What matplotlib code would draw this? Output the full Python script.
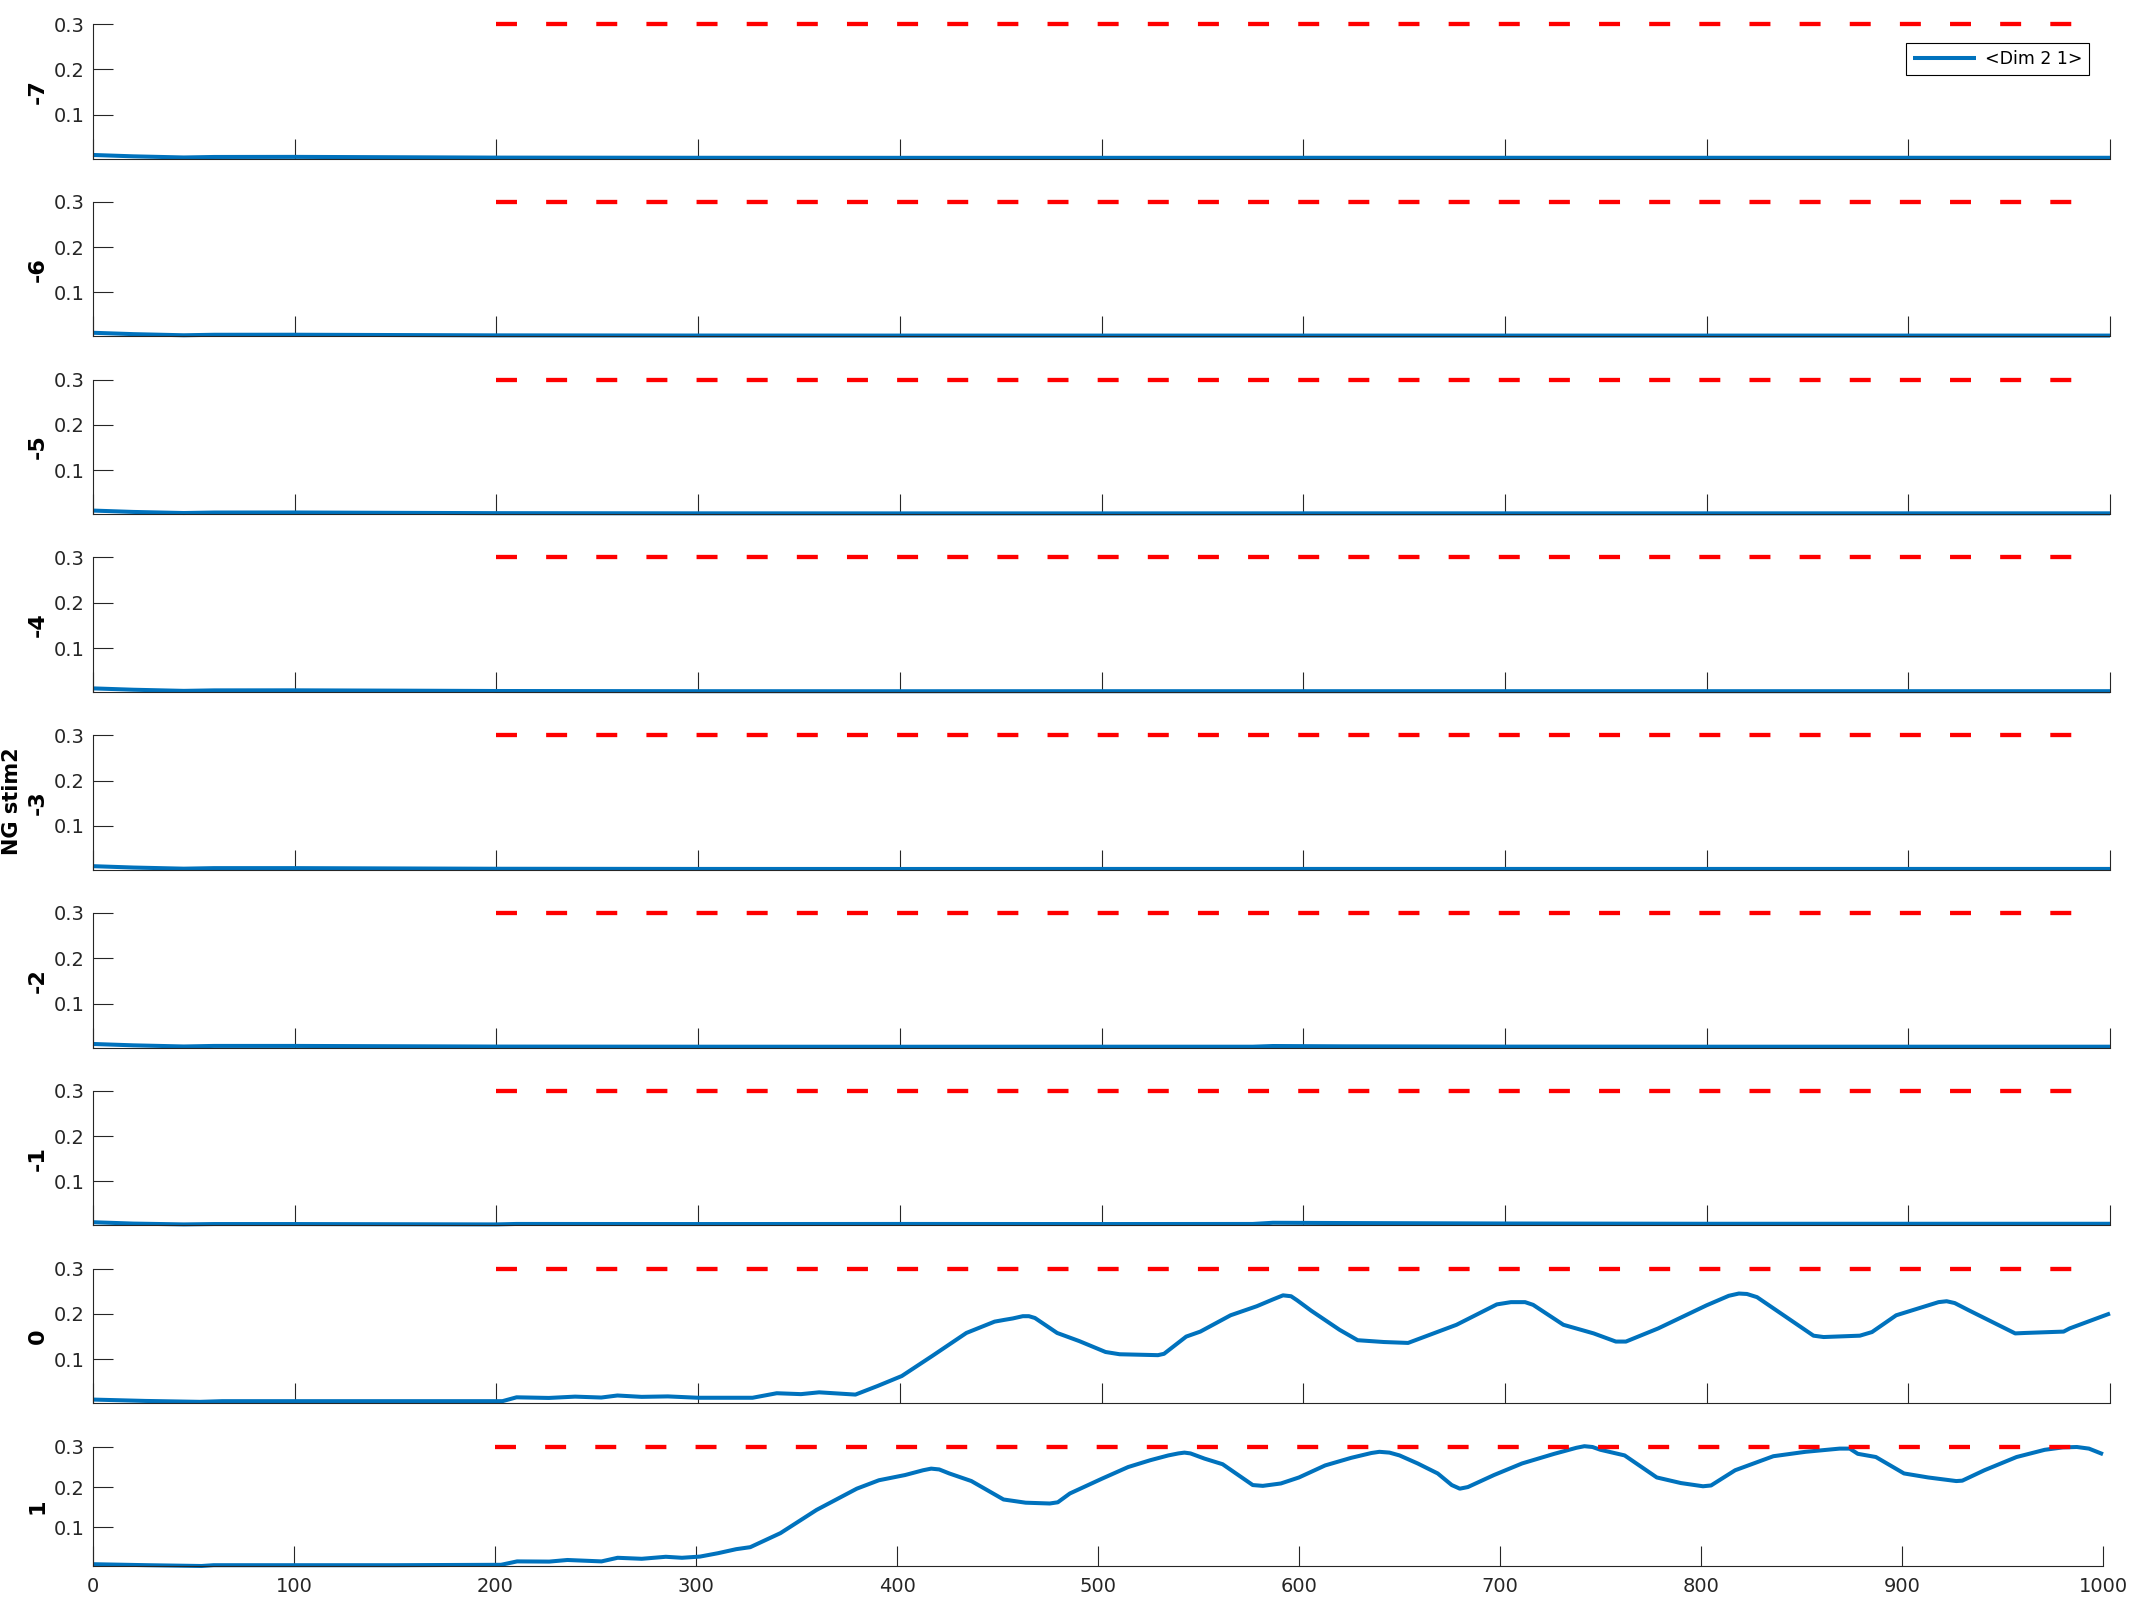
import matplotlib
matplotlib.use('Agg')
import matplotlib.pyplot as plt

plt.rcParams['font.family'] = ['DejaVu Sans']
plt.rcParams['lines.scale_dashes'] = False

# ---------------- data ----------------
panel_labels = ['-7', '-6', '-5', '-4', '-3', '-2', '-1', '0', '1']
x_ticks = [0, 100, 200, 300, 400, 500, 600, 700, 800, 900, 1000]
y_ticks = [0.1, 0.2, 0.3]
y_tick_labels = ['0.1', '0.2', '0.3']
legend_label = '<Dim 2 1>'
super_ylabel = 'NG stim2'

# red reference (dashed) line
ref_x = [200, 986]
ref_y = [0.3, 0.3]

# flat panels
flat_x = [0, 20, 45, 60, 100, 150, 200, 300, 400, 500, 600, 700, 800, 900, 1000]
y_m7 = [0.011, 0.008, 0.0055, 0.0066, 0.0068, 0.006, 0.0052, 0.0048, 0.0047, 0.0047, 0.0048, 0.0048, 0.0048, 0.0048, 0.0048]
y_m6 = [0.011, 0.008, 0.0055, 0.0066, 0.0067, 0.006, 0.0053, 0.0049, 0.0048, 0.0048, 0.0048, 0.0048, 0.0048, 0.0048, 0.0048]
y_m5 = [0.011, 0.008, 0.0056, 0.0067, 0.0068, 0.006, 0.0053, 0.0049, 0.0048, 0.0048, 0.0049, 0.0049, 0.0049, 0.0049, 0.0049]
y_m4 = [0.011, 0.008, 0.0055, 0.0066, 0.0067, 0.006, 0.0052, 0.0048, 0.0047, 0.0048, 0.0048, 0.0048, 0.0048, 0.0048, 0.0048]
y_m3 = [0.011, 0.008, 0.0055, 0.0067, 0.0067, 0.006, 0.0053, 0.0049, 0.0048, 0.0049, 0.0049, 0.0049, 0.0049, 0.0049, 0.0049]

x_m2 = [0, 20, 45, 60, 100, 150, 200, 300, 400, 500, 575, 585, 620, 700, 800, 900, 1000]
y_m2 = [0.011, 0.008, 0.0055, 0.0067, 0.0067, 0.006, 0.0053, 0.005, 0.0049, 0.005, 0.005, 0.0065, 0.0058, 0.0052, 0.005, 0.005, 0.005]

x_m1 = [0, 20, 45, 60, 100, 150, 200, 210, 300, 400, 500, 575, 585, 620, 700, 800, 900, 1000]
y_m1 = [0.010, 0.007, 0.0052, 0.006, 0.006, 0.0056, 0.0052, 0.0062, 0.006, 0.0062, 0.006, 0.0062, 0.0088, 0.0082, 0.0072, 0.0066, 0.0066, 0.0066]

# panel 0
x_0 = [0, 26, 53, 64, 150, 203, 210, 226, 239, 252, 260, 272, 285, 300, 327, 339, 351, 360, 378,
       389, 401, 416, 433, 447, 452, 456, 461, 464, 467, 478, 489, 502, 509, 528, 531, 542, 549,
       564, 577, 585, 590, 594, 597, 604, 618, 627, 640, 652, 676, 696, 703, 710, 714, 729, 744,
       755, 760, 776, 800, 811, 816, 820, 825, 853, 858, 876, 882, 894, 915, 919, 923, 930, 953,
       958, 977, 980, 1000]
y_0 = [0.011, 0.008, 0.006, 0.0075, 0.0075, 0.0075, 0.016, 0.0146, 0.0175, 0.0155, 0.020, 0.017, 0.018,
       0.015, 0.015, 0.025, 0.023, 0.027, 0.022,
       0.041, 0.063, 0.107, 0.158, 0.183, 0.187, 0.190, 0.195, 0.195, 0.191, 0.158, 0.140, 0.116,
       0.111, 0.109, 0.112, 0.150, 0.161, 0.197, 0.217, 0.232, 0.241, 0.239, 0.230, 0.207, 0.165,
       0.142, 0.138, 0.136, 0.176, 0.221, 0.226, 0.226, 0.220, 0.176, 0.157, 0.139, 0.139, 0.168,
       0.219, 0.240, 0.245, 0.244, 0.237, 0.152, 0.149, 0.152, 0.160, 0.197, 0.226, 0.228, 0.224,
       0.208, 0.157, 0.158, 0.161, 0.168, 0.201]

# panel 1
x_1 = [0, 27, 54, 60, 150, 203, 211, 227, 236, 253, 261, 273, 285, 293, 302, 311, 320, 327, 342,
       360, 380, 391, 404, 413, 417, 421, 426, 437, 453, 464, 476, 480, 486, 502, 515, 526, 535,
       540, 543, 546, 553, 562, 577, 582, 591, 600, 613, 626, 636, 640, 645, 650, 659, 669, 676,
       680, 684, 697, 711, 727, 738, 742, 746, 750, 762, 778, 790, 801, 805, 817, 836, 852, 869,
       874, 878, 887, 901, 913, 927, 930, 941, 957, 971, 980, 987, 993, 1000]
y_1 = [0.0075, 0.005, 0.003, 0.005, 0.005, 0.006, 0.0145, 0.014, 0.018, 0.0145, 0.0235, 0.021, 0.026,
       0.0235, 0.0265, 0.035, 0.045, 0.050, 0.085,
       0.143, 0.196, 0.217, 0.230, 0.242, 0.246, 0.244, 0.234, 0.215, 0.169, 0.161, 0.159, 0.162,
       0.184, 0.221, 0.250, 0.267, 0.279, 0.284, 0.286, 0.284, 0.271, 0.257, 0.205, 0.203, 0.209,
       0.224, 0.254, 0.273, 0.285, 0.288, 0.286, 0.279, 0.259, 0.234, 0.205, 0.196, 0.200, 0.230,
       0.259, 0.283, 0.298, 0.302, 0.300, 0.293, 0.279, 0.224, 0.210, 0.202, 0.204, 0.242, 0.277,
       0.288, 0.296, 0.296, 0.283, 0.275, 0.234, 0.224, 0.215, 0.216, 0.242, 0.275, 0.293, 0.299,
       0.300, 0.296, 0.282]

series_x = [flat_x, flat_x, flat_x, flat_x, flat_x, x_m2, x_m1, x_0, x_1]
series_y = [y_m7, y_m6, y_m5, y_m4, y_m3, y_m2, y_m1, y_0, y_1]

# ---------------- layout ----------------
W, H = 2133, 1600
fig = plt.figure(figsize=(W / 100, H / 100), dpi=100)
left_px = 93
tops = [24 + 177.8 * k for k in range(8)] + [1447]
bottoms = [t + 134.6 for t in tops[:8]] + [1566]
rights = [2110] * 8 + [2103]

axis_col = '#262626'
blue = '#0072BD'

for i in range(9):
    t, b, r = tops[i], bottoms[i], rights[i]
    ax = fig.add_axes([left_px / W, 1 - b / H, (r - left_px) / W, (b - t) / H])
    line, = ax.plot(series_x[i], series_y[i], color=blue, lw=2.9, solid_joinstyle='round',
                    solid_capstyle='butt', clip_on=False, zorder=2)
    ax.plot(ref_x, ref_y, color='#FF0000', lw=3.1, dashes=(15.1, 21.0), zorder=3, clip_on=False)
    ax.set_xlim(0, 1000)
    ax.set_ylim(0.003, 0.3)
    for s in ['top', 'right']:
        ax.spines[s].set_visible(False)
    for s in ['left', 'bottom']:
        ax.spines[s].set_color(axis_col)
        ax.spines[s].set_linewidth(0.8)
    ax.set_xticks(x_ticks)
    ax.set_yticks(y_ticks)
    ax.set_yticklabels(y_tick_labels)
    ax.tick_params(direction='in', length=14.4, width=0.8, colors=axis_col,
                   labelsize=14, pad=6)
    if i < 8:
        ax.tick_params(labelbottom=False)
    else:
        ax.tick_params(axis='x', pad=8)
    fig.text(38 / W, 1 - (t + b) / 2 / H, panel_labels[i], rotation=90,
             ha='center', va='center', fontweight='bold', fontsize=16, color='black')
    if i == 0:
        ax.legend([line], [legend_label], loc='upper right',
                  bbox_to_anchor=(2089 / W, 1 - 43 / H), bbox_transform=fig.transFigure,
                  borderaxespad=0, fontsize=12.5, handlelength=3.6, handletextpad=0.5,
                  borderpad=0.4, fancybox=False, framealpha=1, edgecolor='black')
        ax.get_legend().get_frame().set_linewidth(0.8)

fig.text(12 / W, 0.499, super_ylabel, rotation=90, ha='center', va='center',
         fontweight='bold', fontsize=15, color='black')

fig.savefig('out.png', dpi=100)
